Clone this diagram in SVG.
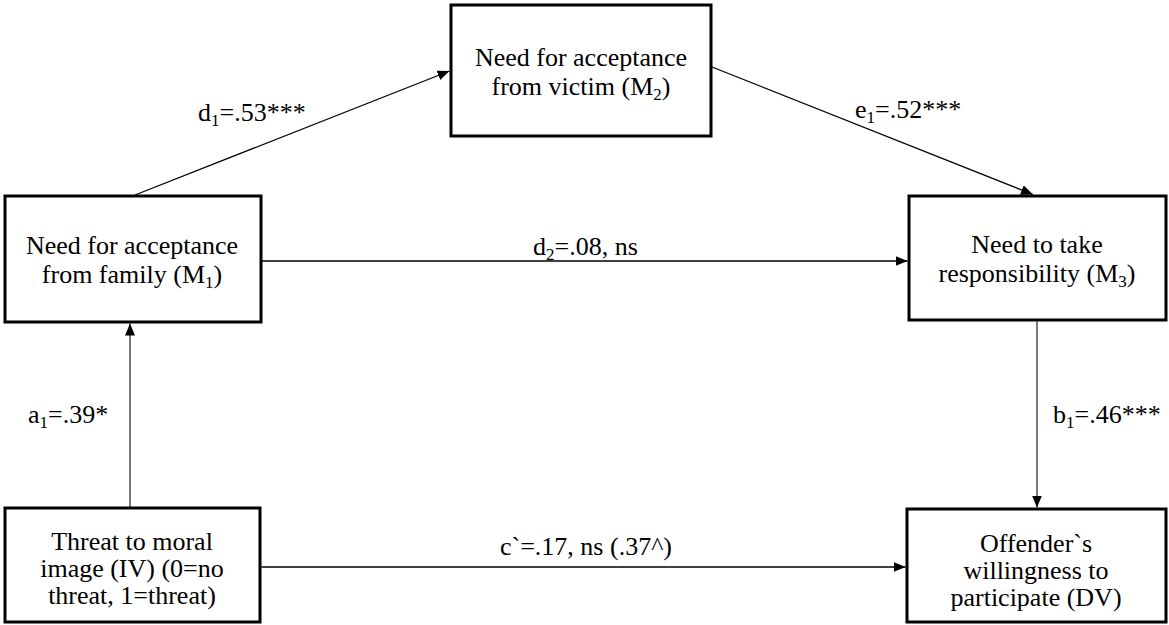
<svg xmlns="http://www.w3.org/2000/svg" width="1169" height="625" viewBox="0 0 1169 625" font-family="'Liberation Serif', 'Times New Roman', 'DejaVu Serif', serif">
<style>
.box{fill:#fff;stroke:#000;stroke-width:3}
text{font-family:'Liberation Serif','Times New Roman','DejaVu Serif',serif;font-size:26px;fill:#000}
.c{text-anchor:middle}
.sub{font-size:17px}
.ln{stroke:#000;stroke-width:1.3;fill:none}
.vl{stroke:#333;stroke-width:1.3;fill:none}
</style>
<defs>
<marker id="ah" markerUnits="userSpaceOnUse" markerWidth="13" markerHeight="11" refX="12" refY="5" orient="auto">
<path d="M0,0 L12,5 L0,10 z" fill="#000"/>
</marker>
</defs>
<rect width="1169" height="625" fill="#fff"/>
<g id="connectors">
<line class="vl" x1="130" y1="508" x2="130" y2="323.5" marker-end="url(#ah)"/>
<line class="ln" x1="135" y1="195" x2="449.5" y2="71" marker-end="url(#ah)"/>
<line class="ln" x1="712" y1="67" x2="1033" y2="194.5" marker-end="url(#ah)"/>
<line class="ln" x1="262" y1="261" x2="907.5" y2="261" marker-end="url(#ah)"/>
<line class="vl" x1="1037" y1="321.5" x2="1037" y2="507.5" marker-end="url(#ah)"/>
<line class="ln" x1="261.5" y1="567" x2="905.5" y2="567" marker-end="url(#ah)"/>
</g>
<g id="labels">
<text x="198" y="121">d<tspan class="sub" dy="5">1</tspan><tspan dy="-5">=.53***</tspan></text>
<text x="855" y="118">e<tspan class="sub" dy="5">1</tspan><tspan dy="-5">=.52***</tspan></text>
<text x="533" y="255">d<tspan class="sub" dy="5">2</tspan><tspan dy="-5">=.08, ns</tspan></text>
<text x="500" y="555">c`=.17, ns (.37^)</text>
<text x="28" y="423">a<tspan class="sub" dy="5">1</tspan><tspan dy="-5">=.39*</tspan></text>
<text x="1053" y="423">b<tspan class="sub" dy="5">1</tspan><tspan dy="-5">=.46***</tspan></text>
</g>
<g id="m2">
<rect class="box" x="451" y="5" width="260" height="131"/>
<text class="c" x="581" y="66">Need for acceptance</text>
<text class="c" x="581" y="95">from victim (M<tspan class="sub" dy="5">2</tspan><tspan dy="-5">)</tspan></text>
</g>
<g id="m1">
<rect class="box" x="5" y="196" width="256" height="126"/>
<text class="c" x="132" y="254">Need for acceptance</text>
<text class="c" x="132" y="283">from family (M<tspan class="sub" dy="5">1</tspan><tspan dy="-5">)</tspan></text>
</g>
<g id="m3">
<rect class="box" x="909" y="196" width="257" height="124"/>
<text class="c" x="1037" y="253">Need to take</text>
<text class="c" x="1037" y="282">responsibility  (M<tspan class="sub" dy="5">3</tspan><tspan dy="-5">)</tspan></text>
</g>
<g id="iv">
<rect class="box" x="5" y="508" width="255" height="114"/>
<text class="c" x="132" y="550">Threat to moral</text>
<text class="c" x="132" y="577">image (IV) (0=no</text>
<text class="c" x="132" y="604">threat, 1=threat)</text>
</g>
<g id="dv">
<rect class="box" x="907" y="509" width="259" height="113"/>
<text class="c" x="1036" y="552">Offender`s</text>
<text class="c" x="1036" y="579">willingness  to</text>
<text class="c" x="1036" y="606">participate (DV)</text>
</g>
</svg>
